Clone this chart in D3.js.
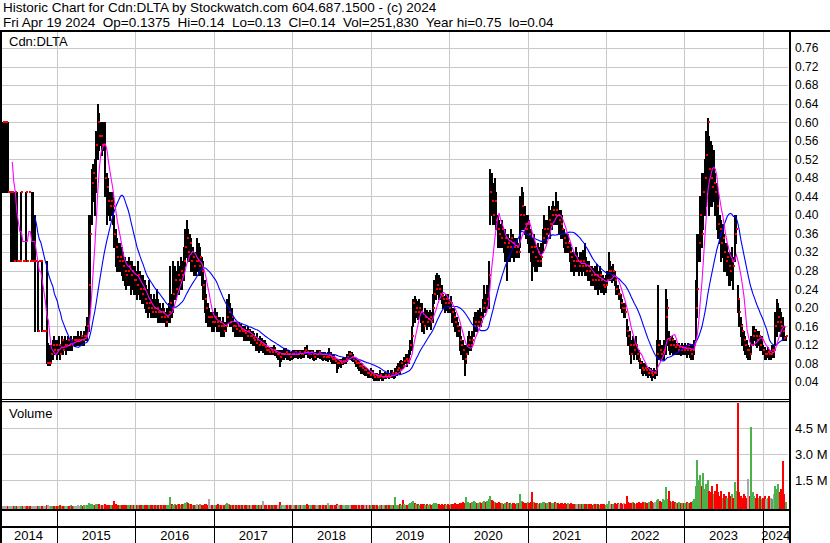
<!DOCTYPE html>
<html>
<head>
<meta charset="utf-8">
<script src="https://cdn.jsdelivr.net/npm/d3@7"></script>
<style>
  body { margin: 0; background: #fff; }
  svg { display: block; }
  text { font-family: "Liberation Sans", Arial, sans-serif; fill: #000; }
</style>
</head>
<body>
<svg id="chart" width="830" height="543"></svg>
<script>
// weekly bars, first one is the week ending Fri Apr 25 2014, last one Fri Apr 19 2024
const firstBar = new Date(2014, 3, 25);

const weekHigh = [
  // 2014
  .60,.60,.60,.60,.45,.45,.45,.45,.45,.45,.30,.30,.45,.30,.30,.45,.30,.45,.30,.45,.45,.40,.30,.30,.30,.30,.30,.15,.15,.30,.124,.12,.12,.13,.14,.13,
  // 2015
  .13,.14,.12,.14,.13,.14,.13,.14,.13,.14,.13,.14,.14,.14,.15,.14,.15,.14,.15,.16,.18,
  .40,.40,.50,.51,.52,.58,.64,.62,.60,.60,.60,.60,.49,.48,.45,.45,
  .45,.40,.37,.35,.34,.34,.33,.32,.31,.30,.30,.31,.30,.30,.29,
  // 2016
  .29,.28,.30,.28,.27,.27,.26,.25,.24,.26,.23,.22,.23,
  .22,.24,.22,.21,.20,.21,.20,.19,.20,.21,.29,.23,.30,
  .29,.28,.30,.29,.31,.30,.33,.37,.39,.37,.36,.35,.33,
  .32,.32,.35,.34,.33,.31,.30,.26,.23,.21,.20,.19,.19,
  // 2017
  .19,.20,.19,.18,.18,.17,.18,.17,.17,.22,.23,.21,.20,
  .18,.17,.17,.17,.17,.165,.16,.16,.16,.155,.16,.155,.15,
  .15,.145,.14,.145,.135,.14,.135,.13,.13,.125,.115,.115,.115,
  .115,.12,.115,.11,.11,.11,.11,.11,.113,.113,.11,.108,.105,
  // 2018
  .105,.11,.11,.108,.11,.11,.108,.11,.11,.115,.12,.11,.108,
  .11,.108,.105,.105,.108,.11,.11,.105,.105,.105,.10,.105,.113,
  .105,.10,.10,.095,.09,.09,.09,.09,.092,.095,.095,.10,.106,
  .106,.105,.10,.095,.09,.088,.085,.08,.08,.075,.072,.07,.065,
  // 2019
  .065,.07,.065,.06,.06,.06,.058,.065,.06,.06,.062,.06,.065,
  .06,.065,.066,.062,.07,.075,.08,.085,.088,.085,.095,.10,.10,
  .11,.13,.16,.22,.225,.22,.215,.22,.21,.21,.19,.20,.195,
  .19,.195,.19,.23,.26,.27,.275,.27,.265,.25,.23,.225,.23,
  // 2020
  .23,.22,.225,.20,.20,.19,.18,.17,.16,.14,.13,.12,.12,
  .14,.15,.14,.15,.18,.19,.19,.195,.20,.19,.22,.25,.23,
  .25,.30,.50,.49,.47,.48,.45,.40,.39,.38,.39,.37,.37,
  .36,.36,.35,.37,.36,.35,.35,.35,.34,.44,.46,.45,.42,
  // 2021
  .40,.40,.39,.37,.35,.36,.34,.33,.34,.33,.34,.37,.40,
  .39,.39,.42,.41,.42,.43,.42,.45,.43,.41,.41,.40,.37,
  .36,.36,.36,.34,.33,.32,.32,.33,.32,.31,.32,.32,.325,
  .34,.31,.30,.30,.29,.29,.285,.29,.295,.28,.29,.28,.27,.265,
  // 2022
  .27,.28,.32,.30,.29,.295,.28,.265,.25,.24,.23,.22,.21,
  .21,.175,.16,.15,.13,.14,.13,.14,.12,.11,.09,.085,.08,
  .08,.075,.07,.073,.07,.065,.07,.066,.13,.25,.13,.12,.12,
  .13,.24,.22,.15,.14,.14,.135,.13,.125,.12,.125,.12,.124,
  // 2023
  .12,.124,.12,.125,.12,.12,.12,.13,.26,.36,.36,.44,.49,
  .49,.52,.58,.61,.57,.56,.55,.54,.49,.47,.45,.40,.39,
  .38,.36,.34,.34,.32,.32,.33,.31,.40,.40,.25,.22,.18,
  .165,.15,.14,.13,.12,.115,.14,.16,.16,.155,.15,.15,.14,
  // 2024
  .14,.12,.115,.11,.115,.11,.11,.12,.12,.19,.22,.21,.20,.19,.18,.16,.14
];

const weekLow = [
  // 2014
  .45,.45,.45,.45,.45,.30,.30,.30,.30,.30,.30,.30,.30,.30,.30,.30,.30,.45,.30,.30,.30,.15,.30,.15,.30,.30,.15,.15,.15,.08,.077,.077,.08,.09,.10,.10,
  // 2015
  .09,.10,.09,.10,.10,.11,.10,.11,.11,.11,.11,.12,.12,.12,.12,.12,.12,.12,.12,.13,.13,
  .15,.20,.38,.43,.40,.45,.52,.54,.55,.53,.54,.44,.38,.40,.39,.40,
  .38,.33,.29,.28,.28,.28,.27,.26,.25,.24,.25,.25,.23,.24,.23,
  // 2016
  .23,.22,.23,.22,.21,.21,.20,.19,.18,.19,.18,.18,.18,
  .18,.18,.17,.17,.17,.17,.17,.16,.16,.17,.17,.18,.19,
  .22,.22,.23,.23,.24,.24,.26,.29,.31,.30,.30,.28,.28,
  .27,.27,.28,.27,.27,.25,.22,.19,.17,.16,.16,.16,.15,
  // 2017
  .15,.16,.15,.15,.15,.14,.14,.14,.15,.16,.17,.16,.16,
  .15,.14,.14,.14,.14,.14,.14,.13,.13,.13,.13,.13,.125,
  .12,.12,.11,.11,.105,.11,.11,.105,.10,.10,.10,.10,.10,
  .10,.10,.098,.095,.09,.075,.085,.09,.09,.095,.09,.09,.088,
  // 2018
  .09,.092,.095,.093,.092,.095,.092,.093,.095,.10,.10,.095,.092,
  .095,.09,.088,.09,.093,.095,.092,.09,.088,.09,.088,.085,.09,
  .085,.08,.082,.08,.062,.07,.075,.072,.078,.08,.08,.085,.09,
  .09,.088,.085,.08,.075,.07,.065,.06,.06,.058,.055,.055,.05,
  // 2019
  .05,.05,.048,.045,.045,.045,.045,.048,.045,.045,.048,.048,.05,
  .048,.05,.05,.048,.05,.055,.06,.06,.065,.07,.075,.08,.075,
  .08,.10,.11,.16,.17,.18,.175,.18,.17,.15,.145,.16,.155,
  .16,.16,.155,.17,.21,.22,.23,.22,.22,.21,.20,.19,.195,
  // 2020
  .19,.19,.19,.17,.16,.15,.14,.14,.11,.10,.09,.055,.08,
  .10,.11,.11,.12,.14,.15,.15,.16,.16,.16,.18,.19,.19,
  .20,.20,.38,.40,.38,.38,.37,.33,.33,.33,.33,.32,.30,
  .26,.30,.30,.31,.31,.30,.31,.31,.31,.33,.37,.37,.36,
  // 2021
  .35,.34,.32,.30,.26,.29,.28,.28,.29,.29,.29,.32,.34,
  .34,.35,.36,.35,.37,.38,.38,.38,.38,.36,.35,.35,.33,
  .32,.32,.32,.30,.28,.28,.27,.28,.28,.27,.28,.27,.28,
  .27,.27,.26,.26,.25,.25,.25,.24,.24,.23,.24,.235,.235,.23,
  // 2022
  .235,.25,.26,.26,.255,.26,.25,.23,.23,.22,.20,.19,.18,
  .18,.14,.12,.10,.08,.10,.09,.10,.09,.085,.07,.06,.055,
  .06,.055,.05,.055,.05,.045,.05,.048,.055,.09,.09,.088,.09,
  .09,.10,.12,.11,.10,.105,.10,.10,.10,.10,.10,.098,.10,
  // 2023
  .10,.10,.095,.10,.095,.09,.09,.10,.13,.18,.30,.30,.33,
  .37,.40,.42,.45,.40,.42,.42,.43,.40,.37,.35,.34,.30,
  .31,.28,.28,.27,.25,.25,.26,.24,.30,.34,.19,.16,.14,
  .12,.11,.10,.095,.09,.09,.10,.12,.13,.12,.115,.12,.11,
  // 2024
  .11,.10,.09,.09,.095,.09,.09,.095,.095,.12,.14,.15,.15,.14,.13,.13,.13
];

const weekClose = [
  // 2014
  .60,.60,.60,.45,.45,.45,.45,.30,.45,.30,.30,.30,.45,.30,.30,.45,.30,.45,.30,.30,.30,.30,.30,.15,.30,.30,.15,.15,.15,.08,.08,.08,.10,.12,.11,.12,
  // 2015
  .11,.12,.10,.13,.11,.12,.12,.13,.12,.13,.12,.13,.13,.13,.13,.13,.14,.13,.14,.14,.16,
  .25,.36,.47,.49,.48,.55,.60,.57,.57,.55,.55,.48,.46,.43,.42,.43,
  .42,.36,.33,.31,.30,.31,.30,.29,.28,.27,.28,.29,.27,.28,.26,
  // 2016
  .26,.25,.27,.24,.23,.24,.22,.21,.20,.21,.20,.19,.20,
  .19,.20,.19,.19,.18,.19,.18,.17,.18,.19,.21,.20,.23,
  .26,.24,.27,.26,.28,.27,.30,.33,.35,.32,.34,.30,.31,
  .29,.30,.30,.29,.31,.28,.25,.22,.20,.18,.18,.18,.17,
  // 2017
  .17,.18,.17,.16,.17,.16,.16,.15,.16,.18,.19,.17,.18,
  .16,.16,.155,.16,.15,.155,.15,.15,.145,.14,.15,.14,.14,
  .135,.13,.125,.13,.12,.125,.12,.12,.115,.11,.11,.105,.11,
  .105,.11,.105,.10,.10,.095,.10,.10,.10,.105,.10,.10,.095,
  // 2018
  .10,.10,.105,.10,.10,.105,.10,.10,.105,.11,.105,.10,.10,
  .105,.10,.095,.10,.10,.105,.10,.10,.095,.10,.095,.095,.10,
  .095,.09,.09,.085,.08,.08,.085,.08,.085,.085,.09,.095,.10,
  .10,.095,.09,.085,.08,.08,.075,.075,.07,.065,.065,.06,.06,
  // 2019
  .055,.06,.055,.05,.055,.05,.05,.055,.05,.05,.055,.05,.055,
  .05,.055,.06,.055,.06,.065,.07,.065,.08,.075,.085,.09,.085,
  .09,.12,.14,.21,.19,.20,.19,.20,.19,.17,.16,.18,.17,
  .175,.18,.17,.20,.23,.24,.25,.24,.23,.225,.22,.21,.22,
  // 2020
  .21,.20,.21,.19,.18,.17,.16,.15,.13,.12,.11,.09,.10,
  .12,.13,.12,.13,.16,.17,.16,.17,.18,.17,.20,.21,.20,
  .22,.27,.45,.43,.40,.43,.39,.37,.36,.35,.37,.34,.35,
  .33,.34,.33,.35,.34,.33,.32,.33,.32,.40,.42,.40,.38,
  // 2021
  .37,.38,.36,.33,.32,.33,.31,.30,.32,.30,.31,.35,.37,
  .36,.37,.39,.38,.40,.41,.40,.41,.40,.39,.38,.37,.35,
  .34,.33,.34,.32,.31,.30,.29,.30,.30,.29,.30,.29,.30,
  .29,.28,.29,.28,.27,.26,.27,.26,.27,.26,.27,.26,.25,.245,
  // 2022
  .25,.26,.28,.28,.27,.28,.26,.24,.23,.23,.21,.20,.20,
  .19,.15,.14,.12,.10,.12,.11,.12,.10,.09,.08,.07,.065,
  .07,.065,.06,.065,.06,.055,.06,.06,.10,.12,.11,.10,.105,
  .11,.18,.20,.13,.12,.13,.12,.115,.12,.11,.115,.11,.115,
  // 2023
  .11,.115,.11,.12,.11,.10,.11,.12,.20,.24,.34,.40,.36,
  .45,.48,.53,.60,.50,.48,.46,.47,.45,.42,.38,.37,.34,
  .35,.32,.30,.31,.29,.28,.30,.29,.36,.37,.22,.19,.16,
  .15,.13,.12,.11,.11,.10,.12,.14,.15,.14,.13,.14,.12,
  // 2024
  .13,.11,.10,.10,.105,.10,.10,.11,.11,.16,.17,.18,.17,.16,.15,.135,.14
];

// volume in millions of shares
const weekVolume = [
  // 2014
  .03,.02,.03,.02,.01,.03,.02,.02,.03,.02,.01,.02,.03,.02,.02,.03,.02,.02,.02,.03,.03,.04,.02,.03,.02,.02,.03,.02,.02,.05,.06,.04,.03,.04,.03,.03,
  // 2015
  .04,.03,.05,.03,.04,.04,.03,.04,.03,.05,.03,.04,.03,.04,.05,.04,.05,.04,.06,.05,.08,
  .18,.15,.12,.10,.09,.14,.16,.12,.10,.08,.09,.12,.10,.08,.07,.08,
  .10,.30,.12,.08,.07,.06,.08,.07,.06,.05,.07,.06,.08,.05,.06,
  // 2016
  .06,.07,.08,.06,.07,.09,.08,.10,.07,.06,.08,.07,.06,
  .07,.08,.06,.07,.06,.08,.07,.06,.09,.07,.55,.12,.10,
  .15,.10,.12,.14,.10,.12,.16,.20,.22,.18,.12,.14,.10,
  .08,.10,.12,.09,.14,.10,.08,.12,.15,.10,.40,.09,.07,
  // 2017
  .10,.10,.08,.12,.09,.07,.10,.08,.12,.18,.15,.10,.09,
  .08,.07,.09,.06,.08,.07,.10,.06,.08,.07,.06,.09,.07,
  .08,.06,.07,.09,.10,.08,.06,.30,.07,.06,.08,.05,.07,
  .06,.07,.08,.06,.05,.25,.07,.06,.05,.07,.06,.05,.06,
  // 2018
  .05,.06,.05,.07,.06,.05,.08,.06,.05,.07,.15,.06,.05,
  .06,.05,.07,.06,.05,.06,.08,.05,.06,.05,.07,.20,.06,
  .05,.06,.07,.05,.12,.06,.05,.07,.06,.08,.07,.06,.08,
  .06,.05,.07,.06,.08,.05,.06,.07,.05,.06,.08,.05,.06,
  // 2019
  .05,.06,.07,.05,.06,.05,.04,.06,.05,.06,.07,.05,.06,
  .05,.06,.07,.06,.55,.10,.08,.12,.10,.35,.12,.08,.10,
  .12,.20,.25,.30,.18,.15,.12,.10,.14,.12,.15,.10,.12,
  .10,.12,.08,.15,.20,.18,.14,.12,.10,.11,.09,.12,.10,
  // 2020
  .12,.10,.14,.12,.15,.18,.14,.16,.20,.18,.25,.20,.55,
  .25,.20,.18,.22,.30,.25,.20,.18,.22,.20,.25,.30,.22,
  .30,.40,.60,.35,.30,.25,.20,.18,.22,.20,.18,.16,.20,
  .22,.18,.20,.16,.18,.20,.15,.18,.20,.70,.30,.25,.20,
  // 2021
  .18,.22,.20,.25,.80,.22,.20,.18,.15,.20,.18,.22,.25,
  .20,.18,.22,.25,.20,.18,.22,.20,.18,.15,.18,.20,.16,
  .18,.15,.20,.16,.18,.15,.12,.14,.16,.12,.15,.13,.12,
  .14,.12,.15,.12,.13,.10,.12,.14,.11,.13,.10,.12,.11,.12,
  // 2022
  .10,.14,.30,.15,.12,.14,.18,.15,.20,.15,.18,.15,.20,
  .15,.60,.25,.20,.18,.22,.18,.15,.20,.25,.18,.20,.25,
  .22,.20,.18,.22,.30,.25,.20,.22,.35,.45,.30,.25,.40,
  .35,1.1,.45,.90,.30,.25,.30,.22,.20,.18,.22,.20,.18,
  // 2023
  .20,.18,.22,.20,.18,.25,.30,.40,1.2,2.7,1.5,1.8,1.2,
  1.9,1.0,1.3,1.5,.9,.8,1.2,.7,.9,1.3,.8,.6,.9,
  .5,.7,.6,.5,.8,.6,.7,.5,1.4,.9,5.95,.8,.6,
  .5,.7,.6,.5,1.6,.6,4.6,.8,.6,.5,.7,.5,.6,
  // 2024
  .4,.5,.6,.4,.5,.6,.5,.4,.7,1.2,1.0,1.3,.8,1.0,2.6,.7,.25
];

const priceTicks = [0.04, 0.08, 0.12, 0.16, 0.20, 0.24, 0.28, 0.32, 0.36, 0.40,
                    0.44, 0.48, 0.52, 0.56, 0.60, 0.64, 0.68, 0.72, 0.76];
const volumeTicks = [1.5, 3.0, 4.5, 6.0];
const years = [2014, 2015, 2016, 2017, 2018, 2019, 2020, 2021, 2022, 2023, 2024];

const headerLines = [
  "Historic Chart for Cdn:DLTA by Stockwatch.com 604.687.1500 - (c) 2024",
  "Fri Apr 19 2024  Op=0.1375  Hi=0.14  Lo=0.13  Cl=0.14  Vol=251,830  Year hi=0.75  lo=0.04"
];

const lens = [weekHigh.length, weekLow.length, weekClose.length, weekVolume.length];
if (new Set(lens).size !== 1) throw new Error("array length mismatch " + lens.join(","));

const bars = weekClose.map((c, i) => ({
  date: d3.timeDay.offset(firstBar, 7 * i),
  hi: weekHigh[i], lo: weekLow[i], cl: c, vol: weekVolume[i],
  prev: i > 0 ? weekClose[i - 1] : c
}));

function movingAverage(values, n) {
  return values.map((v, i) => i < n - 1 ? null : d3.mean(values.slice(i - n + 1, i + 1)));
}
const maFast = movingAverage(weekClose, 7);
const maSlow = movingAverage(weekClose, 22);

const svg = d3.select("#chart");
const plotRight = 788;
const x = d3.scaleTime()
  .domain([new Date(2014, 3, 19), new Date(2024, 3, 19)])
  .range([2, 786]);
const y = d3.scaleLinear().domain([0, 0.8]).range([400.6, 29.4]);
const yVol = d3.scaleLinear().domain([0, 6]).range([506.3, 402.3]);
const px = v => Math.round(v) + 0.5;

svg.append("rect").attr("width", 830).attr("height", 543).attr("fill", "#fff");

// header
svg.append("g").selectAll("text").data(headerLines).join("text")
  .attr("x", 3).attr("y", (d, i) => 12 + i * 15)
  .attr("font-size", 13.5)
  .style("white-space", "pre")
  .text(d => d);

const grid = svg.append("g").attr("stroke", "#c8c8c8").attr("shape-rendering", "crispEdges");
grid.selectAll(".hp").data(priceTicks).join("line")
  .attr("x1", 2).attr("x2", plotRight)
  .attr("y1", d => px(y(d))).attr("y2", d => px(y(d)));
grid.selectAll(".hv").data(volumeTicks).join("line")
  .attr("x1", 2).attr("x2", plotRight)
  .attr("y1", d => px(yVol(d))).attr("y2", d => px(yVol(d)));

const yearStarts = years.slice(1).map(yr => new Date(yr, 0, 1));
grid.selectAll(".vp").data(yearStarts).join("line")
  .attr("x1", d => px(x(d))).attr("x2", d => px(x(d)))
  .attr("y1", 31).attr("y2", 399);
grid.selectAll(".vv").data(yearStarts).join("line")
  .attr("x1", d => px(x(d))).attr("x2", d => px(x(d)))
  .attr("y1", 402).attr("y2", 508);

// price bars, two pixels wide so the weekly bars pack like the daily ones
const priceG = svg.append("g").attr("shape-rendering", "crispEdges");
priceG.selectAll("rect.bar").data(bars.filter(d => d.hi > d.lo)).join("rect")
  .attr("class", "bar")
  .attr("x", d => Math.round(x(d.date)) - 1).attr("width", 2)
  .attr("y", d => Math.round(y(d.hi)))
  .attr("height", d => Math.round(y(d.lo)) - Math.round(y(d.hi)) + 1)
  .attr("fill", "#000");
priceG.selectAll("rect.cl").data(bars).join("rect")
  .attr("class", "cl")
  .attr("x", d => Math.round(x(d.date))).attr("y", d => Math.round(y(d.cl)) - 1)
  .attr("width", 2).attr("height", 2)
  .attr("fill", "#ff0000");

// moving averages
const maLine = d3.line()
  .defined(d => d[1] != null)
  .x(d => x(d[0]))
  .y(d => y(d[1]));
svg.append("path")
  .datum(bars.map((b, i) => [b.date, maSlow[i]]))
  .attr("d", maLine).attr("fill", "none").attr("stroke", "#0000ff").attr("stroke-width", 1.1);
svg.append("path")
  .datum(bars.map((b, i) => [b.date, maFast[i]]))
  .attr("d", maLine).attr("fill", "none").attr("stroke", "#ff00ff").attr("stroke-width", 1.1);

// volume bars
svg.append("g").attr("shape-rendering", "crispEdges")
  .selectAll("rect").data(bars).join("rect")
  .attr("x", d => Math.round(x(d.date)) - 1).attr("width", 2)
  .attr("y", d => Math.round(yVol(d.vol)))
  .attr("height", d => 508.5 - Math.round(yVol(d.vol)))
  .attr("fill", d => d.cl > d.prev ? "#4cb04c" : d.cl < d.prev ? "#ff0000" : "#a8a8a8");

// frame
const frame = svg.append("g").attr("fill", "#000").attr("shape-rendering", "crispEdges");
frame.append("rect").attr("x", 0).attr("y", 29.5).attr("width", 830).attr("height", 2);
frame.append("rect").attr("x", 0).attr("y", 29.5).attr("width", 2).attr("height", 514);
frame.append("rect").attr("x", 788.5).attr("y", 29.5).attr("width", 2).attr("height", 514);
frame.append("rect").attr("x", 0).attr("y", 399).attr("width", 790).attr("height", 1);
frame.append("rect").attr("x", 0).attr("y", 401).attr("width", 790).attr("height", 1);
frame.append("rect").attr("x", 0).attr("y", 508.5).attr("width", 790).attr("height", 2);
frame.append("rect").attr("x", 0).attr("y", 526).attr("width", 790).attr("height", 2);

const lower = svg.append("g").attr("stroke", "#000").attr("shape-rendering", "crispEdges");
lower.selectAll("line").data(yearStarts).join("line")
  .attr("x1", d => px(x(d))).attr("x2", d => px(x(d)))
  .attr("y1", 510).attr("y2", 543);

// labels
svg.append("text").attr("x", 9).attr("y", 45.5).attr("font-size", 13).text("Cdn:DLTA");
svg.append("text").attr("x", 9).attr("y", 418).attr("font-size", 13).text("Volume");

svg.append("g").selectAll("text").data(priceTicks).join("text")
  .attr("x", 795).attr("y", d => y(d) + 4.3)
  .attr("font-size", 12)
  .text(d => d.toFixed(2));

svg.append("g").selectAll("text").data(volumeTicks.slice(0, 3)).join("text")
  .attr("x", 795).attr("y", d => yVol(d) + 4.5)
  .attr("font-size", 13)
  .text(d => d.toFixed(1) + " M");

svg.append("g").selectAll("text").data(years).join("text")
  .attr("x", yr => {
    const l = yr === 2014 ? 0 : x(new Date(yr, 0, 1));
    const r = yr === 2024 ? 789 : x(new Date(yr + 1, 0, 1));
    return (l + r) / 2;
  })
  .attr("y", 540)
  .attr("text-anchor", "middle")
  .attr("font-size", 13)
  .text(d => d);
</script>
</body>
</html>
